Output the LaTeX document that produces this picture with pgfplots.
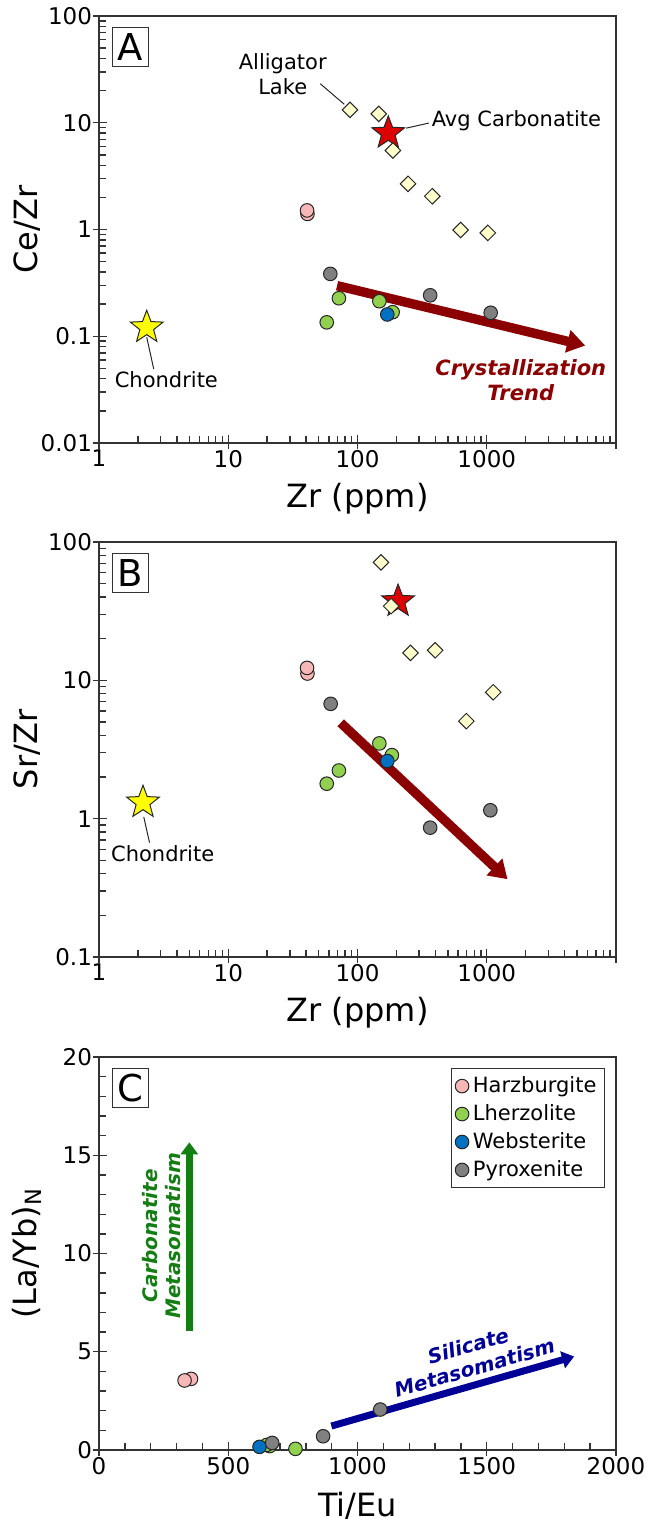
\documentclass[border=0pt]{standalone}
\usepackage{fontspec}
\setmainfont{DejaVu Sans}
\usepackage{pgfplots}
\pgfplotsset{compat=1.18}
\usetikzlibrary{arrows.meta}

\definecolor{harz}{RGB}{248,183,183}
\definecolor{lherz}{RGB}{146,208,80}
\definecolor{webst}{RGB}{0,112,192}
\definecolor{pyrox}{RGB}{128,128,128}
\definecolor{dia}{RGB}{255,255,204}
\definecolor{ystar}{RGB}{255,255,0}
\definecolor{rstar}{RGB}{220,0,0}
\definecolor{crys}{RGB}{139,0,0}
\definecolor{carb}{RGB}{20,125,20}
\definecolor{sil}{RGB}{0,0,150}

\pgfdeclareplotmark{fstar}{%
 \pgfpathmoveto{\pgfpointpolar{90}{\pgfplotmarksize}}%
 \pgfpathlineto{\pgfpointpolar{126}{0.42\pgfplotmarksize}}%
 \pgfpathlineto{\pgfpointpolar{162}{\pgfplotmarksize}}%
 \pgfpathlineto{\pgfpointpolar{198}{0.42\pgfplotmarksize}}%
 \pgfpathlineto{\pgfpointpolar{234}{\pgfplotmarksize}}%
 \pgfpathlineto{\pgfpointpolar{270}{0.42\pgfplotmarksize}}%
 \pgfpathlineto{\pgfpointpolar{306}{\pgfplotmarksize}}%
 \pgfpathlineto{\pgfpointpolar{342}{0.42\pgfplotmarksize}}%
 \pgfpathlineto{\pgfpointpolar{18}{\pgfplotmarksize}}%
 \pgfpathlineto{\pgfpointpolar{54}{0.42\pgfplotmarksize}}%
 \pgfpathclose
 \pgfusepathqfillstroke}

\tikzset{letterbox/.style={draw=black!80, line width=0.6pt, anchor=north west, minimum width=18pt, minimum height=19.5pt, inner sep=0pt, xshift=6.5pt, yshift=-5.5pt, font=\fontsize{18.5}{20}\selectfont}}

\pgfplotsset{
 panel/.style={scale only axis, width=258.5pt,
   axis line style={line width=0.9pt, black!80},
   tick style={line width=0.7pt, black!80},
   tick align=inside, major tick length=4pt, minor tick length=3.5pt,
   xtick pos=bottom, ytick pos=left,
   ticklabel style={font=\fontsize{11.5}{13}\selectfont},
   label style={font=\fontsize{16}{18}\selectfont},
   xlabel style={at={(axis description cs:0.5,0)}, anchor=center, yshift=-28pt},
   ylabel style={at={(axis description cs:-0.139,0.5)}, anchor=center},
   extra x tick style={tick align=outside, major tick length=3pt},
   extra y tick style={tick align=outside, major tick length=3pt},
   clip=false},
 circ/.style={only marks, mark=*, mark size=3.4pt, mark options={fill=#1, draw=black!85, line width=0.5pt}},
 diam/.style={only marks, mark=square*, mark size=2.75pt, mark options={rotate=45, fill=dia, draw=black!85, line width=0.5pt}, forget plot},
 starm/.style={only marks, mark=fstar, mark size=8.6pt, mark options={fill=#1, draw=black!85, line width=0.5pt}, forget plot},
}

\begin{document}
\begin{tikzpicture}
% ---------------- Panel A ----------------
\begin{axis}[panel, at={(49.5pt,-8pt)}, anchor=north west, height=213.5pt,
  xmode=log, ymode=log, xmin=1, xmax=10000, ymin=0.01, ymax=100,
  xtick={1,10,100,1000,10000}, xticklabels={1,10,100,1000,{}},
  ytick={0.01,0.1,1,10,100}, yticklabels={0.01,0.1,1,10,100},
  extra x ticks={1,10,100,1000,10000}, extra x tick labels={,,,,},
  extra y ticks={0.01,0.1,1,10,100}, extra y tick labels={,,,,},
  minor xtick={2,3,4,5,6,7,8,9,20,30,40,50,60,70,80,90,200,300,400,500,600,700,800,900,2000,3000,4000,5000,6000,7000,8000,9000},
  minor ytick={0.02,0.03,0.04,0.05,0.06,0.07,0.08,0.09,0.2,0.3,0.4,0.5,0.6,0.7,0.8,0.9,2,3,4,5,6,7,8,9,20,30,40,50,60,70,80,90},
  xlabel={Zr (ppm)}, ylabel={Ce/Zr}]
\draw[crys, line width=4.7pt, -{Triangle[length=9pt,width=11pt]}] (axis cs:69.5,0.298) -- (axis cs:5780,0.0818);
\draw[black!85, line width=0.5pt] (axis cs:51.5,23.2) -- (axis cs:79,14.9);
\draw[black!85, line width=0.5pt] (axis cs:238,8.9) -- (axis cs:356,9.93);
\draw[black!85, line width=0.5pt] (axis cs:2.34,0.098) -- (axis cs:2.65,0.0494);
\addplot[starm=rstar] coordinates {(173,8.0)};
\addplot[starm=ystar] coordinates {(2.34,0.121)};
\addplot[diam] coordinates {(87.5,13.2) (146,12.1) (188,5.5) (246,2.68) (379,2.05) (628,0.99) (1019,0.93)};
\addplot[circ=harz, forget plot] coordinates {(41,1.40) (40.7,1.51)};
\addplot[circ=lherz, forget plot] coordinates {(71.8,0.227) (147.6,0.213) (187,0.168) (57.8,0.135)};
\addplot[circ=webst, forget plot] coordinates {(170,0.160)};
\addplot[circ=pyrox, forget plot] coordinates {(61.6,0.384) (365,0.242) (1072,0.166)};
\node[font=\fontsize{10.5}{12.5}\selectfont, align=center] at (axis cs:26.4,28.8) {Alligator\\Lake};
\node[font=\fontsize{10.5}{12.5}\selectfont, anchor=west, inner sep=1pt] at (axis cs:360,10.4) {Avg Carbonatite};
\node[font=\fontsize{10.5}{12.5}\selectfont] at (axis cs:3.32,0.0393) {Chondrite};
\node[font=\fontsize{10.5}{12.5}\selectfont\bfseries\itshape, text=crys, align=center] at (axis cs:1832,0.0392) {Crystallization\\Trend};
\node[letterbox] at (rel axis cs:0,1) {A};
\end{axis}

% ---------------- Panel B ----------------
\begin{axis}[panel, at={(49.5pt,-271pt)}, anchor=north west, height=207.5pt,
  xmode=log, ymode=log, xmin=1, xmax=10000, ymin=0.1, ymax=100,
  xtick={1,10,100,1000,10000}, xticklabels={1,10,100,1000,{}},
  ytick={0.1,1,10,100}, yticklabels={0.1,1,10,100},
  extra x ticks={1,10,100,1000,10000}, extra x tick labels={,,,,},
  extra y ticks={0.1,1,10,100}, extra y tick labels={,,,},
  minor xtick={2,3,4,5,6,7,8,9,20,30,40,50,60,70,80,90,200,300,400,500,600,700,800,900,2000,3000,4000,5000,6000,7000,8000,9000},
  minor ytick={0.2,0.3,0.4,0.5,0.6,0.7,0.8,0.9,2,3,4,5,6,7,8,9,20,30,40,50,60,70,80,90},
  xlabel={Zr (ppm)}, ylabel={Sr/Zr}]
\draw[crys, line width=4.7pt, -{Triangle[length=9pt,width=11pt]}] (axis cs:74.1,4.93) -- (axis cs:1448,0.365);
\draw[black!85, line width=0.5pt] (axis cs:2.22,1.03) -- (axis cs:2.46,0.671);
\addplot[starm=rstar] coordinates {(206,37.3)};
\addplot[starm=ystar] coordinates {(2.19,1.31)};
\addplot[diam] coordinates {(152,71.3) (182,34.4) (257,15.8) (399,16.5) (1122,8.2) (695,5.07)};
\addplot[circ=harz, forget plot] coordinates {(41,11.2) (40.7,12.3)};
\addplot[circ=lherz, forget plot] coordinates {(147.6,3.50) (184.5,2.88) (71.8,2.23) (57.8,1.79)};
\addplot[circ=webst, forget plot] coordinates {(170,2.61)};
\addplot[circ=pyrox, forget plot] coordinates {(62,6.76) (365,0.861) (1066,1.15)};
\node[font=\fontsize{10.5}{12.5}\selectfont] at (axis cs:3.11,0.560) {Chondrite};
\node[letterbox] at (rel axis cs:0,1) {B};
\end{axis}

% ---------------- Panel C ----------------
\begin{axis}[panel, at={(49.5pt,-528.5pt)}, anchor=north west, height=196.5pt,
  xmin=0, xmax=2000, ymin=0, ymax=20,
  xtick={0,500,1000,1500,2000}, xticklabels={0,500,1000,1500,2000},
  ytick={0,5,10,15,20}, yticklabels={0,5,10,15,20},
  extra x ticks={0,500,1000,1500,2000}, extra x tick labels={,,,,},
  extra y ticks={0,5,10,15,20}, extra y tick labels={,,,,},
  minor x tick num=4, minor y tick num=4,
  xlabel={Ti/Eu}, ylabel={(La/Yb)\textsubscript{N}},
  legend style={at={(axis description cs:1,1)}, anchor=north east, xshift=-5.5pt, yshift=-5.5pt,
    draw=black!80, line width=0.6pt, font=\fontsize{10.5}{12.5}\selectfont, row sep=0.5pt,
    inner xsep=2pt, inner ysep=2pt, cells={anchor=west}},
  legend cell align=left]
\draw[carb, line width=3.5pt, -{Triangle[length=6pt,width=8.5pt]}] (axis cs:349.5,6.06) -- (axis cs:349.5,15.66);
\draw[sil, line width=3.5pt, -{Triangle[length=6pt,width=8.5pt]}] (axis cs:899,1.22) -- (axis cs:1838,4.76);
\addplot[circ=harz] coordinates {(356,3.62) (331,3.54)};
\addlegendentry{Harzburgite}
\addplot[circ=lherz] coordinates {(660,0.20) (649,0.26) (760,0.06)};
\addlegendentry{Lherzolite}
\addplot[circ=webst] coordinates {(621,0.16)};
\addlegendentry{Websterite}
\addplot[circ=pyrox] coordinates {(670,0.36) (867,0.70) (1088,2.06)};
\addlegendentry{Pyroxenite}
\node[font=\fontsize{10}{11.5}\selectfont\bfseries\itshape, text=carb, align=center, rotate=90] at (axis cs:242,10.9) {Carbonatite\\Metasomatism};
\node[font=\fontsize{10}{11.5}\selectfont\bfseries\itshape, text=sil, align=center, rotate=16] at (axis cs:1440,4.75) {Silicate\\Metasomatism};
\node[letterbox] at (rel axis cs:0,1) {C};
\end{axis}

\pgfresetboundingbox
\useasboundingbox (0,0) rectangle (326pt,-762.5pt);
\end{tikzpicture}
\end{document}
